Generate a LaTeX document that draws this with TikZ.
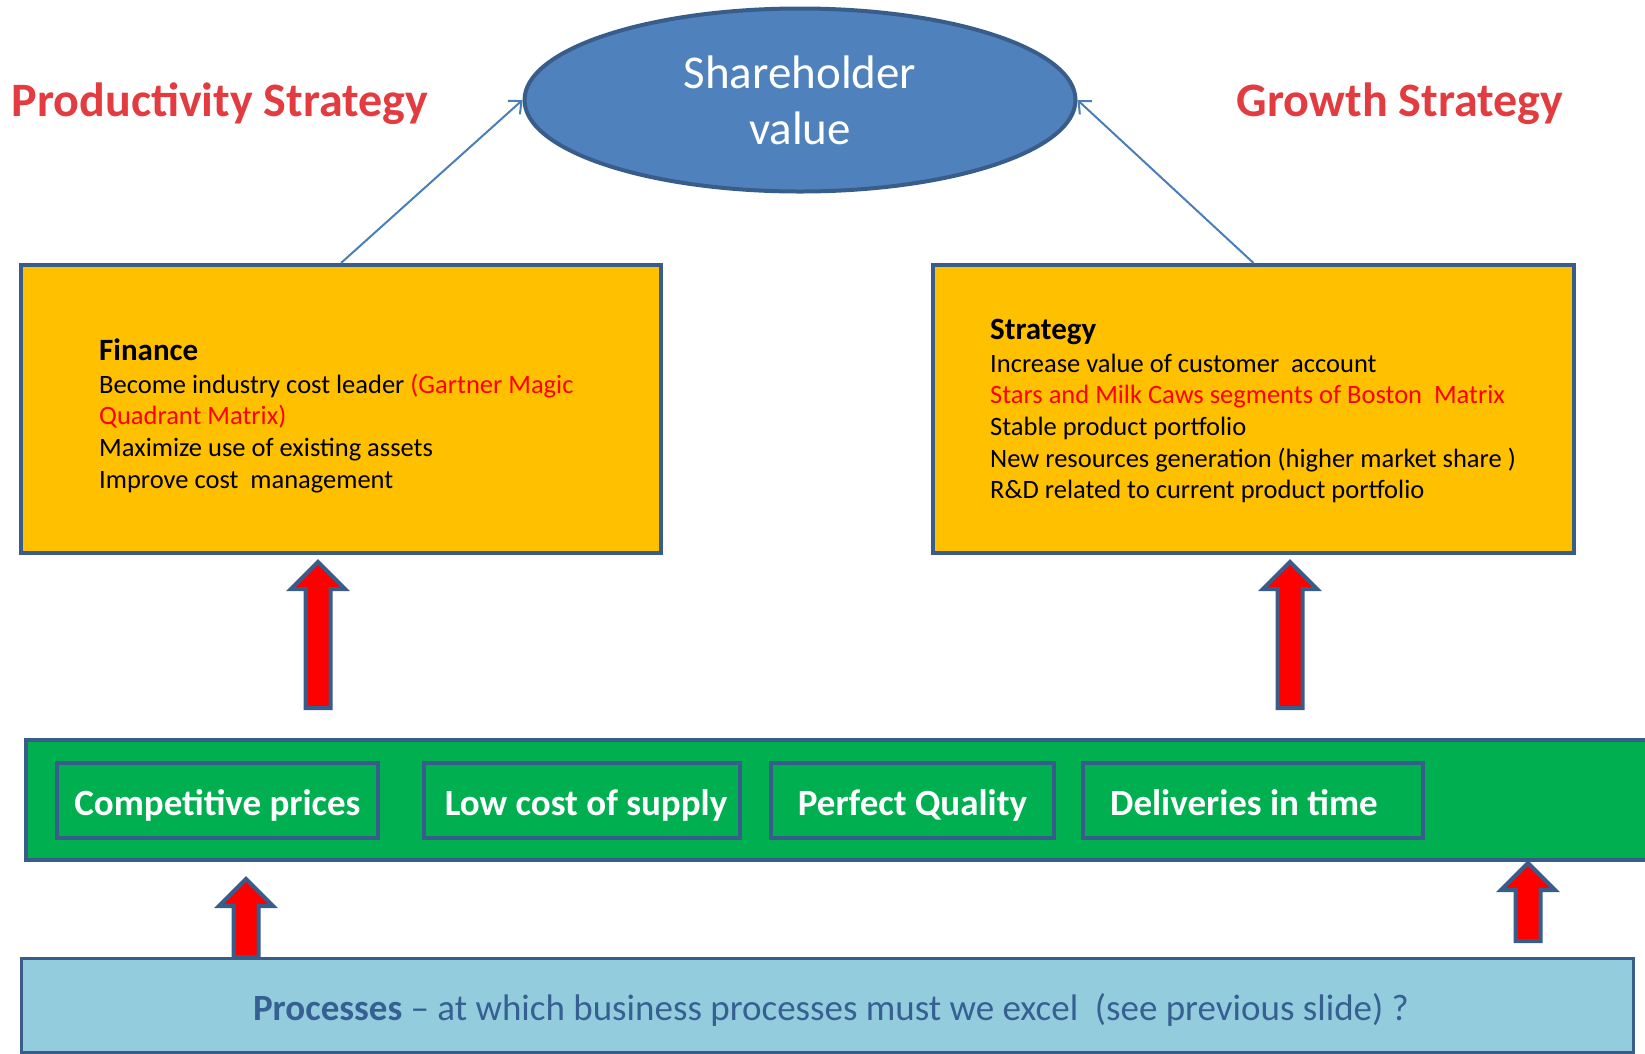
\documentclass[tikz,border=0pt]{standalone}
\usepackage{fontspec}
\setmainfont{Carlito}
\usetikzlibrary{arrows.meta, positioning, shapes.geometric}
\definecolor{edgeBlue}{HTML}{385D8A}
\definecolor{ovalBlue}{HTML}{4F81BD}
\definecolor{linkBlue}{HTML}{4A7EBB}
\definecolor{boxGold}{HTML}{FFC000}
\definecolor{bandGreen}{HTML}{00B050}
\definecolor{procBlue}{HTML}{93CDDD}
\definecolor{procText}{HTML}{376092}
\definecolor{alertRed}{HTML}{FF0000}
\definecolor{titleRed}{HTML}{E23B40}

\begin{document}
\begin{tikzpicture}[x=1pt, y=-1pt,
    goalbox/.style={rectangle, draw=edgeBlue, line width=4pt, fill=boxGold,
                    minimum width=640, minimum height=288, inner sep=0pt},
    headtext/.style={font=\fontsize{31}{37}\selectfont\bfseries, inner sep=0pt},
    bodytext/.style={font=\fontsize{26.5}{31.7}\selectfont, inner sep=0pt},
    titletext/.style={font=\fontsize{48}{56}\selectfont\bfseries, text=titleRed, inner sep=0pt},
    procstep/.style={rectangle, draw=edgeBlue, line width=4pt, fill=bandGreen,
                     text=white, font=\fontsize{37}{44}\selectfont\bfseries,
                     minimum height=75, inner sep=0pt, text height=29pt, text depth=0pt},
    link/.style={-{Straight Barb[length=10pt, width=18pt]}, line width=2pt, linkBlue},
    blockarrow/.style={draw=edgeBlue, line width=4pt, fill=alertRed, line join=miter},
    blockup/.pic={\path[blockarrow] (0,0) -- (27,27) -- (12.5,27) -- (12.5,#1)
                  -- (-12.5,#1) -- (-12.5,27) -- (-27,27) -- cycle;}
  ]
    \useasboundingbox (0,0) rectangle (1645,1053);

    % goal on top
    \node[ellipse, draw=edgeBlue, line width=4pt, fill=ovalBlue, text=white,
          minimum width=551, minimum height=183, inner sep=0pt, align=center,
          font=\fontsize{47}{56}\selectfont] (goal) at (800,100) {Shareholder\\value};

    \node[titletext, anchor=base] (prodtitle) at (220,116) {Productivity Strategy};
    \node[titletext, anchor=base] (growtitle) at (1400,116) {Growth Strategy};

    % the two strategy boxes
    \node[goalbox] (finbox) at (341,409) {};
    \node[goalbox, minimum width=641] (stratbox) at (1253.5,409) {};

    \node[headtext, anchor=base west] (finhead) at (99,360) {Finance};
    \foreach \txt [count=\i] in {{Become industry cost leader \textcolor{alertRed}{(Gartner Magic}},
        {\textcolor{alertRed}{Quadrant Matrix)}}, {Maximize use of existing assets},
        {Improve cost\ \ management}}
      \node[bodytext, anchor=base west] (fin\i) at (99,{393+31.7*(\i-1)}) {\txt};

    \node[headtext, anchor=base west] (strathead) at (990,339) {Strategy};
    \foreach \txt [count=\i] in {{Increase value of customer\ \ account},
        {\textcolor{alertRed}{Stars and Milk Caws segments of Boston\ \ Matrix}},
        {Stable product portfolio}, {New resources generation (higher market share )},
        {R\&D related to current product portfolio}}
      \node[bodytext, anchor=base west] (strat\i) at (990,{372+31.7*(\i-1)}) {\txt};

    \draw[link] (finbox.north) -- (goal.west);
    \draw[link] (stratbox.north) -- (goal.east);

    % green band of process steps
    \node[rectangle, draw=edgeBlue, line width=4pt, fill=bandGreen, minimum width=1640,
          minimum height=120, inner sep=0pt] (band) at (846,800) {};
    \node[procstep, minimum width=321] (cp) at (217.5,800.5) {Competitive prices};
    \node[procstep, minimum width=316] (lc) at (582,800.5) {\hspace*{8pt}Low cost of supply};
    \node[procstep, minimum width=283] (pq) at (912.5,800.5) {Perfect Quality};
    \node[procstep, minimum width=340] (dt) at (1253,800.5) {Deliveries in time\hspace*{18pt}};

    % processes at the bottom
    \node[rectangle, draw=edgeBlue, line width=3pt, fill=procBlue, minimum width=1612,
          minimum height=94, inner sep=0pt] (procbox) at (827,1005) {};
    \node[font=\fontsize{37}{44}\selectfont, text=procText, anchor=base, inner sep=0pt]
      (proctext) at (831,1020) {\textbf{Processes} -- at which business processes must we excel\ \ (see previous slide) ?};

    % block arrows
    \pic at (318,562) {blockup=146};
    \pic at (1290,562) {blockup=146};
    \pic at (246,879) {blockup=78};
    \pic at (1528,863) {blockup=78};
  \end{tikzpicture}
\end{document}
